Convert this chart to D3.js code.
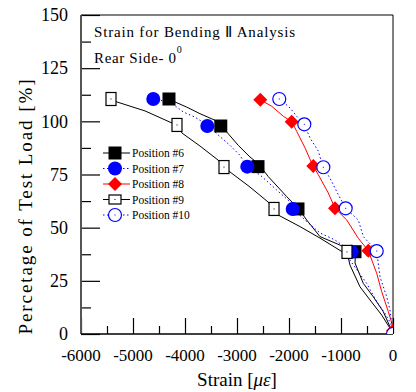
<!DOCTYPE html>
<html>
<head>
<meta charset="utf-8">
<script src="https://cdn.jsdelivr.net/npm/d3@7"></script>
<style>
  html, body { margin: 0; padding: 0; background: #fff; }
  svg { display: block; }
  text { font-family: "Liberation Serif", "Times New Roman", serif; fill: #000; }
</style>
</head>
<body>
<script>
// ---------------- DATA ----------------
const seriesNames = ["Position #6", "Position #7", "Position #8", "Position #9", "Position #10"];
const strainTicks = [-6000, -5000, -4000, -3000, -2000, -1000, 0];
const loadTicks = [0, 25, 50, 75, 100, 125, 150];

// curves: [strain (micro-strain), load (%)]
const pos6Curve = [[-4308,110.6],[-4192,109.1],[-3967,106.7],[-3712,103.6],[-3423,100.5],[-3308,98.4],[-3198,95.0],[-2975,88.7],[-2750,83.2],[-2590,80.1],[-2398,74.0],[-2044,64.6],[-1821,59.1],[-1660,53.6],[-1404,45.8],[-1019,41.8],[-720,38.4],[-731,33.4],[-571,23.8],[-379,17.5],[-187,10.5],[-58,3.4],[0,0]];
const pos7Curve = [[-4615,110.5],[-4288,109.1],[-4033,104.4],[-3808,102.0],[-3577,98.3],[-3390,94.2],[-3135,88.7],[-2942,84.0],[-2808,78.5],[-2558,74.8],[-2237,67.7],[-1981,62.2],[-1923,58.8],[-1692,53.6],[-1404,47.5],[-1115,44.2],[-794,38.7],[-830,34.8],[-506,23.8],[-313,15.2],[-154,9.7],[-44,5.0],[0,0]];
const pos8Curve = [[-2558,110.2],[-2333,107.1],[-2110,102.4],[-1948,99.8],[-1852,95.3],[-1692,87.5],[-1564,80.4],[-1533,79.0],[-1437,74.9],[-1244,66.3],[-1115,59.1],[-890,53.6],[-667,45.0],[-475,39.2],[-313,28.5],[-217,19.9],[-90,10.5],[0,3.4],[0,0]];
const pos9Curve = [[-5423,110.5],[-5308,109.1],[-4769,104.9],[-4250,99.2],[-4154,98.3],[-4058,94.5],[-3712,88.4],[-3365,81.8],[-3250,78.5],[-3135,76.2],[-2750,69.1],[-2404,62.1],[-2288,58.8],[-2212,56.0],[-1788,50.5],[-1404,45.1],[-1000,39.0],[-885,38.6],[-827,32.4],[-635,22.2],[-442,16.0],[-217,8.9],[-58,2.7],[0,0]];
const pos10Curve = [[-2173,110.5],[-1981,106.3],[-1852,102.4],[-1712,98.8],[-1596,92.2],[-1436,86.0],[-1346,78.5],[-1212,73.3],[-1052,65.5],[-910,59.1],[-667,53.6],[-571,45.8],[-313,39.0],[-250,26.9],[-121,17.5],[-58,11.3],[0,0]];

// markers
const pos6Markers = [[-4308,110.5],[-3312,97.8],[-2596,78.7],[-1827,58.8],[-731,38.7]];
const pos7Markers = [[-4610,110.5],[-3571,97.8],[-2802,78.7],[-1929,58.8],[-794,38.7]];
const pos8Markers = [[-2552,110.2],[-1948,99.8],[-1533,79.0],[-1115,59.1],[-475,39.2],[0,1.5]];
const pos9Markers = [[-5423,110.5],[-4154,98.3],[-3250,78.5],[-2288,58.8],[-885,38.6]];
const pos10Markers = [[-2187,110.5],[-1706,98.6],[-1340,78.4],[-910,59.1],[-313,39.0],[0,0]];

// ---------------- LAYOUT ----------------
const W = 416, H = 392;
const m = {left: 81, right: 23, top: 15, bottom: 58};
const pw = W - m.left - m.right, ph = H - m.top - m.bottom;

const x = d3.scaleLinear().domain([-6000, 0]).range([0, pw]);
const y = d3.scaleLinear().domain([0, 150]).range([ph, 0]);

const svg = d3.select("body").append("svg").attr("width", W).attr("height", H);
const g = svg.append("g").attr("transform", `translate(${m.left},${m.top})`);

svg.append("defs").append("clipPath").attr("id", "clip")
  .append("rect").attr("x", 0).attr("y", 0).attr("width", pw).attr("height", ph);

// frame (top/right)
g.append("line").attr("x1", 0).attr("x2", pw).attr("y1", 0).attr("y2", 0).attr("stroke", "#000").attr("stroke-width", 1);
g.append("line").attr("x1", pw).attr("x2", pw).attr("y1", 0).attr("y2", ph).attr("stroke", "#000").attr("stroke-width", 1);

// minor ticks
const xMinor = d3.range(-5500, 0, 1000);
const yMinor = d3.range(12.5, 150, 25);

// Y axis (ticks pointing inward)
const yAx = g.append("g").call(d3.axisRight(y).tickValues(loadTicks).tickSize(19).tickFormat(""));
yAx.select(".domain").remove();
yAx.selectAll(".tick line").attr("stroke", "#000").attr("stroke-width", 1.2);
const yAxMinor = g.append("g").call(d3.axisRight(y).tickValues(yMinor).tickSize(10).tickFormat(""));
yAxMinor.select(".domain").remove();
yAxMinor.selectAll(".tick line").attr("stroke", "#000").attr("stroke-width", 1.2);
g.selectAll(".yl").data(loadTicks).enter().append("text")
  .attr("x", -13).attr("y", d => y(d)).attr("dy", "0.35em")
  .attr("text-anchor", "end").attr("font-size", 18).text(d => d);

// X axis (ticks pointing inward)
const xAx = g.append("g").attr("transform", `translate(0,${ph})`)
  .call(d3.axisTop(x).tickValues(strainTicks).tickSize(16).tickFormat(""));
xAx.select(".domain").remove();
xAx.selectAll(".tick line").attr("stroke", "#000").attr("stroke-width", 1.2);
const xAxMinor = g.append("g").attr("transform", `translate(0,${ph})`)
  .call(d3.axisTop(x).tickValues(xMinor).tickSize(8).tickFormat(""));
xAxMinor.select(".domain").remove();
xAxMinor.selectAll(".tick line").attr("stroke", "#000").attr("stroke-width", 1.2);
g.selectAll(".xl").data(strainTicks).enter().append("text")
  .attr("x", d => x(d)).attr("y", ph + 21).attr("dy", "0.35em")
  .attr("text-anchor", "middle").attr("font-size", 17).text(d => d);

// axis lines
g.append("line").attr("x1", 0).attr("x2", 0).attr("y1", 0).attr("y2", ph).attr("stroke", "#555").attr("stroke-width", 2);
g.append("line").attr("x1", 0).attr("x2", pw).attr("y1", ph).attr("y2", ph).attr("stroke", "#000").attr("stroke-width", 1.5);

// axis titles
const xt = svg.append("text").attr("x", m.left + pw / 2).attr("y", 386)
  .attr("text-anchor", "middle").attr("font-size", 19);
xt.append("tspan").text("Strain [");
xt.append("tspan").attr("font-style", "italic").text("με");
xt.append("tspan").text("]");

svg.append("text").attr("transform", `translate(32,${207}) rotate(-90)`)
  .attr("text-anchor", "middle").attr("font-size", 19)
  .attr("textLength", 255).attr("lengthAdjust", "spacing")
  .text("Percetage of Test Load [%]");

// chart title
svg.append("text").attr("x", 94).attr("y", 37).attr("font-size", 15)
  .attr("textLength", 201).attr("lengthAdjust", "spacing")
  .text("Strain for Bending Ⅱ Analysis");
const t2 = svg.append("text").attr("x", 94).attr("y", 63).attr("font-size", 15);
t2.append("tspan").attr("textLength", 82).attr("lengthAdjust", "spacing").text("Rear Side- 0");
t2.append("tspan").attr("font-size", 10).attr("dy", -10).text("0");

// ---------------- SERIES ----------------
const line = d3.line().x(d => x(d[0])).y(d => y(d[1]));
const plot = g.append("g").attr("clip-path", "url(#clip)");

const series = [
  {name: seriesNames[0], curve: pos6Curve, markers: pos6Markers, color: "#000", dash: null, shape: "fsquare"},
  {name: seriesNames[1], curve: pos7Curve, markers: pos7Markers, color: "#0000ff", dash: "1.5,2.5", shape: "fcircle"},
  {name: seriesNames[2], curve: pos8Curve, markers: pos8Markers, color: "#ff0000", dash: null, shape: "diamond"},
  {name: seriesNames[3], curve: pos9Curve, markers: pos9Markers, color: "#000", dash: null, shape: "osquare"},
  {name: seriesNames[4], curve: pos10Curve, markers: pos10Markers, color: "#0000ff", dash: "1.5,2.5", shape: "ocircle"}
];

function drawMarker(sel, s, legend) {
  if (s.shape === "fsquare") {
    sel.append("rect").attr("x", -6.5).attr("y", -6.5).attr("width", 13).attr("height", 13).attr("fill", "#000");
  } else if (s.shape === "fcircle") {
    sel.append("circle").attr("r", 7).attr("fill", "#0000ff");
  } else if (s.shape === "diamond") {
    sel.append("path").attr("d", "M0,-7L7,0L0,7L-7,0Z").attr("fill", "#ff0000");
  } else if (s.shape === "osquare") {
    const w = legend ? 12 : 10, h = legend ? 9 : 13;
    sel.append("rect").attr("x", -w / 2).attr("y", -h / 2).attr("width", w).attr("height", h)
      .attr("fill", "#fff").attr("stroke", "#000").attr("stroke-width", 1.2);
    sel.append("rect").attr("x", -0.5).attr("y", -0.5).attr("width", 1).attr("height", 1).attr("fill", "#000");
  } else if (s.shape === "ocircle") {
    sel.append("circle").attr("r", 6.5).attr("fill", "#fff").attr("stroke", "#0000ff").attr("stroke-width", 1.2);
    sel.append("rect").attr("x", -0.5).attr("y", -0.5).attr("width", 1).attr("height", 1).attr("fill", "#0000ff");
  }
}

series.forEach(s => {
  plot.append("path").datum(s.curve).attr("d", line)
    .attr("fill", "none").attr("stroke", s.color).attr("stroke-width", 1)
    .attr("stroke-dasharray", s.dash);
});
series.forEach(s => {
  plot.selectAll(null).data(s.markers).enter().append("g")
    .attr("transform", d => `translate(${x(d[0])},${y(d[1])})`)
    .each(function() { drawMarker(d3.select(this), s, false); });
});

// ---------------- LEGEND ----------------
const legendY = d3.scalePoint().domain(seriesNames).range([153, 215]);
const lg = svg.append("g");
series.forEach(s => {
  const yy = legendY(s.name);
  lg.append("line").attr("x1", 103).attr("x2", 130).attr("y1", yy).attr("y2", yy)
    .attr("stroke", s.color).attr("stroke-width", 1).attr("stroke-dasharray", s.dash);
  const mk = lg.append("g").attr("transform", `translate(115,${yy})`);
  drawMarker(mk, s, true);
  lg.append("text").attr("x", 132).attr("y", yy).attr("dy", "0.35em")
    .attr("font-size", 11.5).text(s.name);
});
</script>
</body>
</html>
